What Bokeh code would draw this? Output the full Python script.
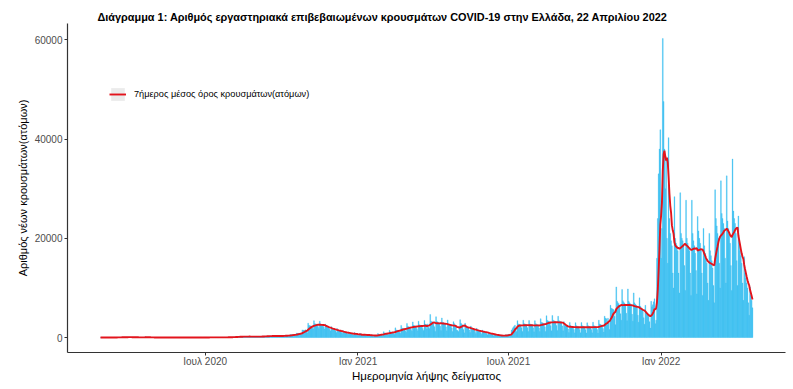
import pandas as pd
from bokeh.plotting import figure
from bokeh.models import (ColumnDataSource, FixedTicker, NumeralTickFormatter,
                          Legend, LegendItem, Range1d)
from bokeh.embed import file_html
from bokeh.resources import INLINE

TITLE = "Διάγραμμα 1: Αριθμός εργαστηριακά επιβεβαιωμένων κρουσμάτων COVID-19 στην Ελλάδα, 22 Απριλίου 2022"
X_LABEL = "Ημερομηνία λήψης δείγματος"
Y_LABEL = "Αριθμός νέων κρουσμάτων(ατόμων)"
LEGEND_LABEL = "7ήμερος μέσος όρος κρουσμάτων(ατόμων)"

START_DATE = "2020-02-26"
# daily lab-confirmed cases by sampling date; rows are Mon..Sun weeks
# (first row starts Wed 26 Feb 2020, last row ends Thu 21 Apr 2022)
cases_rows = [
    [1, 1, 1, 0, 3],
    [0, 0, 2, 3, 21, 8, 7],
    [11, 16, 10, 14, 19, 37, 21],
    [21, 35, 31, 31, 46, 43, 94],
    [71, 48, 78, 74, 71, 74, 95],
    [60, 102, 82, 65, 56, 60, 62],
    [40, 53, 75, 55, 43, 35, 28],
    [22, 31, 25, 17, 42, 28, 23],
    [156, 74, 31, 41, 49, 22, 16],
    [24, 21, 27, 15, 12, 13, 18],
    [10, 15, 8, 10, 8, 12, 6],
    [4, 8, 16, 12, 10, 8, 4],
    [6, 15, 8, 12, 14, 4, 3],
    [9, 12, 6, 9, 4, 7, 2],
    [5, 13, 10, 12, 17, 8, 5],
    [15, 12, 19, 16, 10, 12, 7],
    [16, 18, 13, 19, 15, 14, 12],
    [25, 20, 18, 23, 22, 16, 12],
    [27, 22, 25, 29, 26, 22, 16],
    [28, 35, 31, 27, 34, 25, 18],
    [37, 33, 39, 35, 38, 31, 22],
    [44, 40, 43, 38, 47, 36, 27],
    [62, 57, 66, 59, 71, 54, 38],
    [118, 126, 131, 120, 135, 110, 80],
    [182, 194, 200, 186, 205, 170, 122],
    [218, 205, 212, 198, 224, 186, 140],
    [207, 196, 201, 190, 210, 178, 132],
    [196, 188, 193, 182, 201, 168, 124],
    [272, 260, 266, 254, 280, 232, 170],
    [326, 312, 320, 304, 336, 278, 208],
    [348, 332, 340, 324, 356, 296, 222],
    [360, 342, 352, 334, 368, 306, 230],
    [440, 418, 428, 406, 448, 372, 278],
    [604, 574, 588, 556, 616, 512, 380],
    [880, 836, 856, 812, 896, 744, 556],
    [1540, 1460, 1500, 1420, 1560, 1300, 970],
    [2900, 2450, 2400, 2350, 2300, 1950, 1700],
    [3400, 2800, 2750, 2700, 2600, 2200, 1800],
    [3300, 2700, 2650, 2600, 2500, 2100, 1700],
    [2700, 2150, 2100, 2050, 2000, 1650, 1350],
    [2200, 1700, 1680, 1650, 1600, 1350, 1000],
    [1800, 1400, 1370, 1350, 1300, 1050, 800],
    [1400, 1080, 1060, 1030, 1000, 820, 620],
    [1100, 880, 860, 840, 820, 450, 500],
    [1000, 780, 760, 740, 300, 450, 600],
    [820, 640, 300, 600, 580, 470, 440],
    [700, 520, 500, 480, 460, 350, 280],
    [560, 440, 430, 410, 400, 310, 250],
    [820, 660, 640, 620, 600, 460, 400],
    [1180, 930, 900, 880, 850, 660, 550],
    [1450, 1150, 1120, 1090, 1060, 820, 660],
    [1950, 1530, 1490, 1450, 1410, 1090, 880],
    [2450, 1910, 1860, 1810, 1760, 1370, 1090],
    [2850, 2250, 2190, 2130, 2060, 1600, 1270],
    [3150, 2460, 2400, 2340, 2260, 1760, 1380],
    [3300, 2570, 2500, 2440, 2360, 1840, 1440],
    [3450, 2700, 2650, 1700, 2750, 2100, 1800],
    [4650, 3300, 3200, 3100, 3000, 2200, 1200],
    [4200, 3250, 3150, 3050, 2950, 2300, 1400],
    [3950, 3100, 3000, 2900, 2800, 2150, 1350],
    [3550, 2750, 2650, 2600, 2500, 1900, 1200],
    [3200, 2800, 2500, 2100, 1500, 1400, 1200],
    [2200, 3600, 2900, 2700, 2500, 1600, 950],
    [2900, 2300, 2200, 2100, 2000, 1500, 1000],
    [2300, 1850, 1750, 1700, 1600, 1200, 800],
    [1850, 1500, 1430, 1380, 1300, 980, 660],
    [1500, 1210, 1150, 1110, 1050, 790, 540],
    [1080, 860, 820, 790, 750, 570, 380],
    [720, 580, 550, 530, 500, 370, 250],
    [400, 480, 440, 420, 400, 290, 230],
    [560, 520, 560, 620, 700, 520, 370],
    [1500, 1800, 2100, 2300, 2500, 1900, 1200],
    [3400, 2750, 2700, 2600, 2550, 1950, 1200],
    [3500, 2800, 2750, 2650, 2600, 2000, 1200],
    [3450, 2750, 2700, 2600, 2550, 1950, 1150],
    [3400, 2800, 2700, 2600, 2550, 1900, 1200],
    [3800, 3050, 3000, 2900, 2800, 2150, 1200],
    [4400, 3450, 3350, 3250, 3150, 2400, 1350],
    [4450, 3500, 3400, 3300, 3200, 2450, 1400],
    [4300, 3400, 3300, 3200, 3100, 2350, 1350],
    [3200, 2500, 2400, 2350, 2250, 1700, 1000],
    [3050, 2400, 2300, 2250, 2150, 1600, 950],
    [3000, 2380, 2280, 2230, 2130, 1590, 950],
    [3020, 2370, 2290, 2220, 2140, 1580, 940],
    [2980, 2390, 2270, 2240, 2120, 1600, 960],
    [3100, 2400, 2300, 2250, 2150, 1600, 900],
    [3500, 2750, 2650, 2550, 2450, 1800, 1100],
    [4300, 3900, 3800, 2600, 3900, 3000, 1600],
    [6500, 5900, 5800, 5700, 5600, 4300, 2600],
    [10200, 7300, 7000, 6800, 6500, 4800, 3500],
    [9700, 7400, 7100, 6900, 6600, 4900, 3400],
    [9800, 7300, 7000, 6800, 6500, 4700, 3300],
    [9000, 7000, 6700, 6500, 6200, 4500, 3100],
    [8000, 6300, 6000, 5800, 5500, 4000, 2700],
    [6500, 5000, 4700, 4500, 4300, 3200, 1900],
    [7300, 6200, 6600, 7200, 7800, 2800, 3500],
    [16000, 24000, 33000, 38000, 41900, 16000, 22000],
    [60300, 47600, 38000, 30000, 36000, 20000, 15000],
    [40300, 24000, 21000, 19500, 18500, 13000, 10000],
    [28400, 20000, 19000, 18500, 17500, 13000, 9000],
    [29200, 21000, 20000, 19500, 18500, 14500, 9500],
    [27700, 20000, 19000, 18000, 17500, 13000, 8500],
    [27700, 21000, 19500, 18500, 17000, 13500, 8800],
    [24400, 21500, 20000, 19000, 17500, 13000, 8500],
    [22000, 18500, 17000, 16000, 15000, 11000, 7500],
    [21000, 17500, 16500, 15500, 14000, 10500, 7000],
    [29800, 24000, 22500, 21000, 20000, 15000, 10000],
    [31600, 25000, 24000, 23000, 22000, 16000, 11000],
    [32600, 23500, 22000, 20500, 19000, 14500, 9500],
    [36000, 25500, 24000, 23000, 21000, 15500, 10500],
    [24500, 19000, 17500, 16500, 15000, 11000, 7500],
    [16300, 13000, 12000, 11000, 10000, 7000, 4500],
    [10200, 8500, 7500, 6000],
]

X_TICK_DATES = ["2020-07-01", "2021-01-01", "2021-07-01", "2022-01-01"]
X_TICK_LABELS = ["Ιουλ 2020", "Ιαν 2021", "Ιουλ 2021", "Ιαν 2022"]
Y_TICKS = [0, 20000, 40000, 60000]

BAR_COLOR = "#38BEF0"
LINE_COLOR = "#E3141C"
KEY_BG = "#EBEBEB"
FONT = "Liberation Sans"

# ---- data frame ----
cases = [v for row in cases_rows for v in row]
dates = pd.date_range(START_DATE, periods=len(cases), freq="D")
df = pd.DataFrame({"date": dates, "cases": cases})
df["ma7"] = df["cases"].rolling(7, min_periods=1).mean()
src = ColumnDataSource(df)

day = pd.Timedelta(days=1)
span = (dates[-1] - dates[0]) + 0.9 * day
pad = span * 0.05
x_start = dates[0] - 0.45 * day - pad
x_end = dates[-1] + 0.45 * day + pad
ymax = max(cases)
y_start = -0.05 * ymax
y_end = ymax * 1.05

p = figure(width=793, height=389, output_backend="svg", toolbar_location=None,
           x_axis_type="datetime",
           x_range=Range1d(x_start, x_end), y_range=Range1d(y_start, y_end),
           min_border_left=67, min_border_right=8, min_border_top=23,
           min_border_bottom=37)
p.outline_line_color = None
p.background_fill_color = "white"
p.border_fill_color = "white"
p.xgrid.visible = False
p.ygrid.visible = False

bars = p.vbar(x="date", top="cases", width=1.0 * 86400000, source=src,
              fill_color=BAR_COLOR, line_color=BAR_COLOR, line_width=0.3)
line = p.line(x="date", y="ma7", source=src, line_color=LINE_COLOR, line_width=1.9)
# legend-key background swatch (lies outside the visible range)
key_bg = p.rect(x=[dates[0] - 2000 * day], y=[0], width=1, height=1,
                fill_color=KEY_BG, line_color=None)

# title
p.title.text = TITLE
p.title.text_font = FONT
p.title.text_font_size = "10.9px"
p.title.text_font_style = "bold"
p.title.text_color = "black"
p.title.align = "left"
p.title.offset = 30
p.title.standoff = 2

# axes
tick_ms = [pd.Timestamp(d).value / 1e6 for d in X_TICK_DATES]
xa = p.xaxis[0]
xa.ticker = FixedTicker(ticks=tick_ms)
xa.major_label_overrides = {t: lab for t, lab in zip(tick_ms, X_TICK_LABELS)}
ya = p.yaxis[0]
ya.ticker = FixedTicker(ticks=Y_TICKS)
ya.formatter = NumeralTickFormatter(format="0")
xa.axis_label = X_LABEL
ya.axis_label = Y_LABEL
for ax in (xa, ya):
    ax.axis_line_color = "#333333"
    ax.axis_line_width = 1.2
    ax.major_tick_line_color = "#333333"
    ax.major_tick_out = 3
    ax.major_tick_in = 0
    ax.minor_tick_line_color = None
    ax.major_label_text_font = FONT
    ax.major_label_text_font_size = "10px"
    ax.major_label_text_color = "#4D4D4D"
    ax.axis_label_text_font = FONT
    ax.axis_label_text_font_size = "11.5px"
    ax.axis_label_text_font_style = "normal"
    ax.axis_label_text_color = "black"
ya.axis_label_text_font_size = "11px"
xa.major_label_standoff = 0
xa.axis_label_standoff = 0
ya.major_label_standoff = 2
ya.axis_label_standoff = 3

legend = Legend(items=[LegendItem(label=LEGEND_LABEL, renderers=[key_bg, line])],
                location=(42, 250), orientation="vertical",
                glyph_width=17, glyph_height=16, label_standoff=8,
                padding=0, margin=0, spacing=0,
                background_fill_alpha=0, border_line_alpha=0,
                label_text_font=FONT, label_text_font_size="9.2px",
                label_text_color="black")
p.add_layout(legend, "center")

open("out.html", "w").write(file_html(p, INLINE))
